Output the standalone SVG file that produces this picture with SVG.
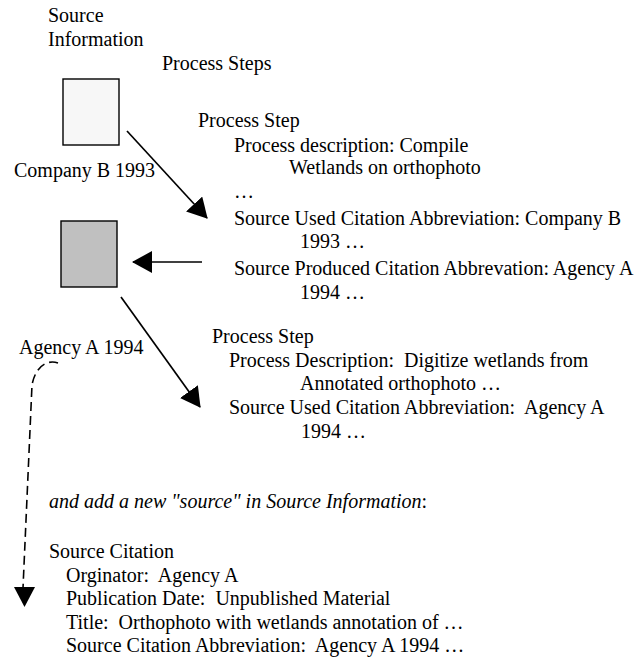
<svg xmlns="http://www.w3.org/2000/svg" width="644" height="660" viewBox="0 0 644 660">
<style>
text{font-family:"Liberation Serif","Times New Roman",serif;font-size:20px;fill:#000}
.it{font-style:italic}
.box{stroke:#000;stroke-width:1.4}
.conn{stroke:#000;stroke-width:1.7;fill:none}
.dash{stroke:#000;stroke-width:1.6;fill:none;stroke-dasharray:9 5}
</style>
<defs>
<marker id="ah" markerUnits="userSpaceOnUse" markerWidth="20" markerHeight="22" viewBox="0 0 20 22" refX="19" refY="11" orient="auto">
<path d="M0,0 L20,11 L0,22 z" fill="#000"/>
</marker>
</defs>
<rect width="644" height="660" fill="#fff"/>
<g id="source-info-label"><text x="48" y="22">Source</text><text x="48" y="46">Information</text></g>
<g id="process-steps-label"><text x="162" y="70">Process Steps</text></g>
<g id="box-company-b"><rect class="box" x="63" y="79" width="56" height="66" fill="#f7f7f7"/><text x="14" y="177">Company B 1993</text></g>
<g id="box-agency-a"><rect class="box" x="61" y="221" width="56" height="66" fill="#c0c0c0"/><text x="19" y="354">Agency A 1994</text></g>
<g id="process-step-1">
<text x="198" y="127">Process Step</text>
<text x="234" y="152">Process description: Compile</text>
<text x="289" y="174">Wetlands on orthophoto</text>
<text x="234" y="198">…</text>
<text x="234" y="225">Source Used Citation Abbreviation: Company B</text>
<text x="300" y="248">1993 …</text>
<text x="234" y="275">Source Produced Citation Abbrevation: Agency A</text>
<text x="300" y="299">1994 …</text>
</g>
<g id="process-step-2">
<text x="212" y="343">Process Step</text>
<text x="229" y="367" xml:space="preserve">Process Description:  Digitize wetlands from</text>
<text x="300" y="390">Annotated orthophoto …</text>
<text x="229" y="414" xml:space="preserve">Source Used Citation Abbreviation:  Agency A</text>
<text x="301" y="438">1994 …</text>
</g>
<g id="new-source">
<text class="it" x="49" y="508">and add a new "source" in Source Information<tspan font-style="normal">:</tspan></text>
<text x="49" y="558">Source Citation</text>
<text x="66" y="582" xml:space="preserve">Orginator:  Agency A</text>
<text x="66" y="605" xml:space="preserve">Publication Date:  Unpublished Material</text>
<text x="66" y="629" xml:space="preserve">Title:  Orthophoto with wetlands annotation of …</text>
<text x="66" y="652" xml:space="preserve">Source Citation Abbreviation:  Agency A 1994 …</text>
</g>
<g id="connectors">
<line class="conn" x1="127" y1="131" x2="207" y2="218" marker-end="url(#ah)"/>
<line class="conn" x1="202" y1="262" x2="133" y2="262" marker-end="url(#ah)"/>
<line class="conn" x1="121" y1="297" x2="200" y2="407" marker-end="url(#ah)"/>
<path class="dash" d="M58,363 C46,359 35,368 32,385 L23,588"/>
<path d="M14,587 L35,587 L24.5,607 z" fill="#000"/>
</g>
</svg>
